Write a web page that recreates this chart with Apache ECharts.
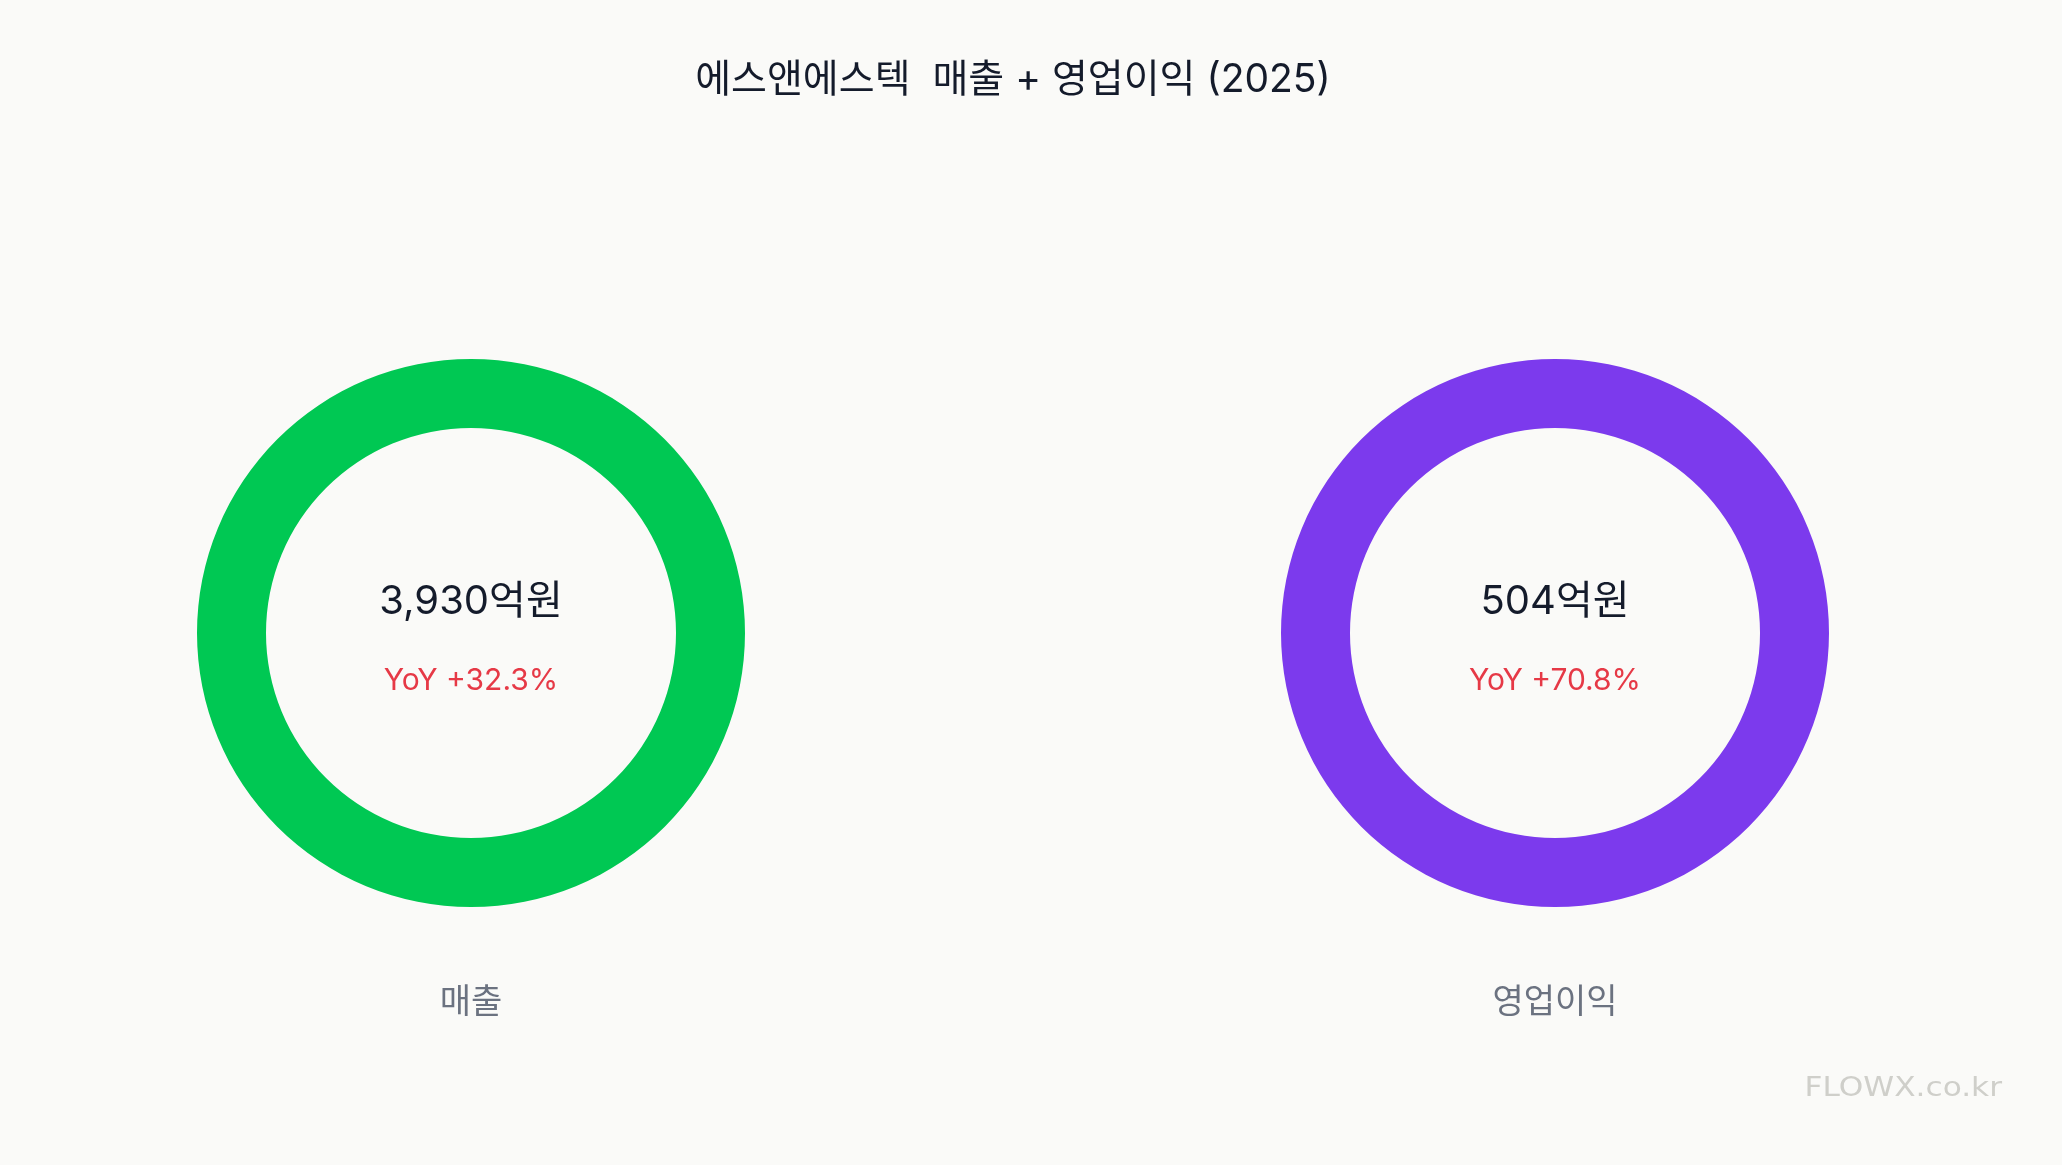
<!DOCTYPE html>
<html>
<head>
<meta charset="utf-8">
<script src="https://cdn.jsdelivr.net/npm/echarts@6/dist/echarts.min.js"></script>
<style>
html,body{margin:0;padding:0;background:#fafaf8;}
#chart{width:2062px;height:1165px;}
</style>
</head>
<body>
<div id="chart"></div>
<script>
const chartTitle = '에스앤에스텍  매출 + 영업이익 (2025)';
const categories = ['매출', '영업이익'];
const values = [3930, 504];
const yoy = [32.3, 70.8];
const unit = '억원';
const colors = ['#00c853', '#7c3aed'];
const watermark = 'FLOWX.co.kr';

const FONT = "Inter, 'Noto Sans CJK KR', sans-serif";
const centers = [[471, 633], [1555, 633]];

const chart = echarts.init(document.getElementById('chart'));

const series = categories.map((name, i) => ({
  type: 'pie',
  radius: [205, 274],
  center: centers[i],
  silent: true,
  startAngle: 90,
  itemStyle: { color: colors[i] },
  emphasis: { disabled: true },
  labelLine: { show: false },
  label: {
    show: true,
    position: 'center',
    formatter: () => '{v|' + values[i].toLocaleString('en-US') + unit + '}\n{y|YoY +' + yoy[i].toFixed(1) + '%}',
    rich: {
      v: { fontFamily: FONT, fontSize: 40, color: '#141b2b', lineHeight: 96, align: 'center' },
      y: { fontFamily: FONT, fontSize: 30, color: '#e63946', lineHeight: 62, align: 'center' }
    }
  },
  data: [{ name: name, value: values[i] }]
}));

const graphics = [
  {
    type: 'text', x: 1013, y: 80,
    style: { text: chartTitle, fontFamily: FONT, fontSize: 39, fontWeight: 400, fill: '#141b2b', textAlign: 'center', textVerticalAlign: 'middle' }
  },
  {
    type: 'text', x: 2002, y: 1089, scaleX: 1.2,
    style: { text: watermark, fontFamily: "'DejaVu Sans', sans-serif", fontSize: 26, fill: '#cfcfca', textAlign: 'right', textVerticalAlign: 'middle' }
  }
].concat(categories.map((name, i) => ({
  type: 'text', x: centers[i][0], y: 1003,
  style: { text: name, fontFamily: FONT, fontSize: 34, fill: '#6b7280', textAlign: 'center', textVerticalAlign: 'middle' }
})));

chart.setOption({
  backgroundColor: '#fafaf8',
  animation: false,
  series: series,
  graphic: graphics
});
</script>
</body>
</html>
